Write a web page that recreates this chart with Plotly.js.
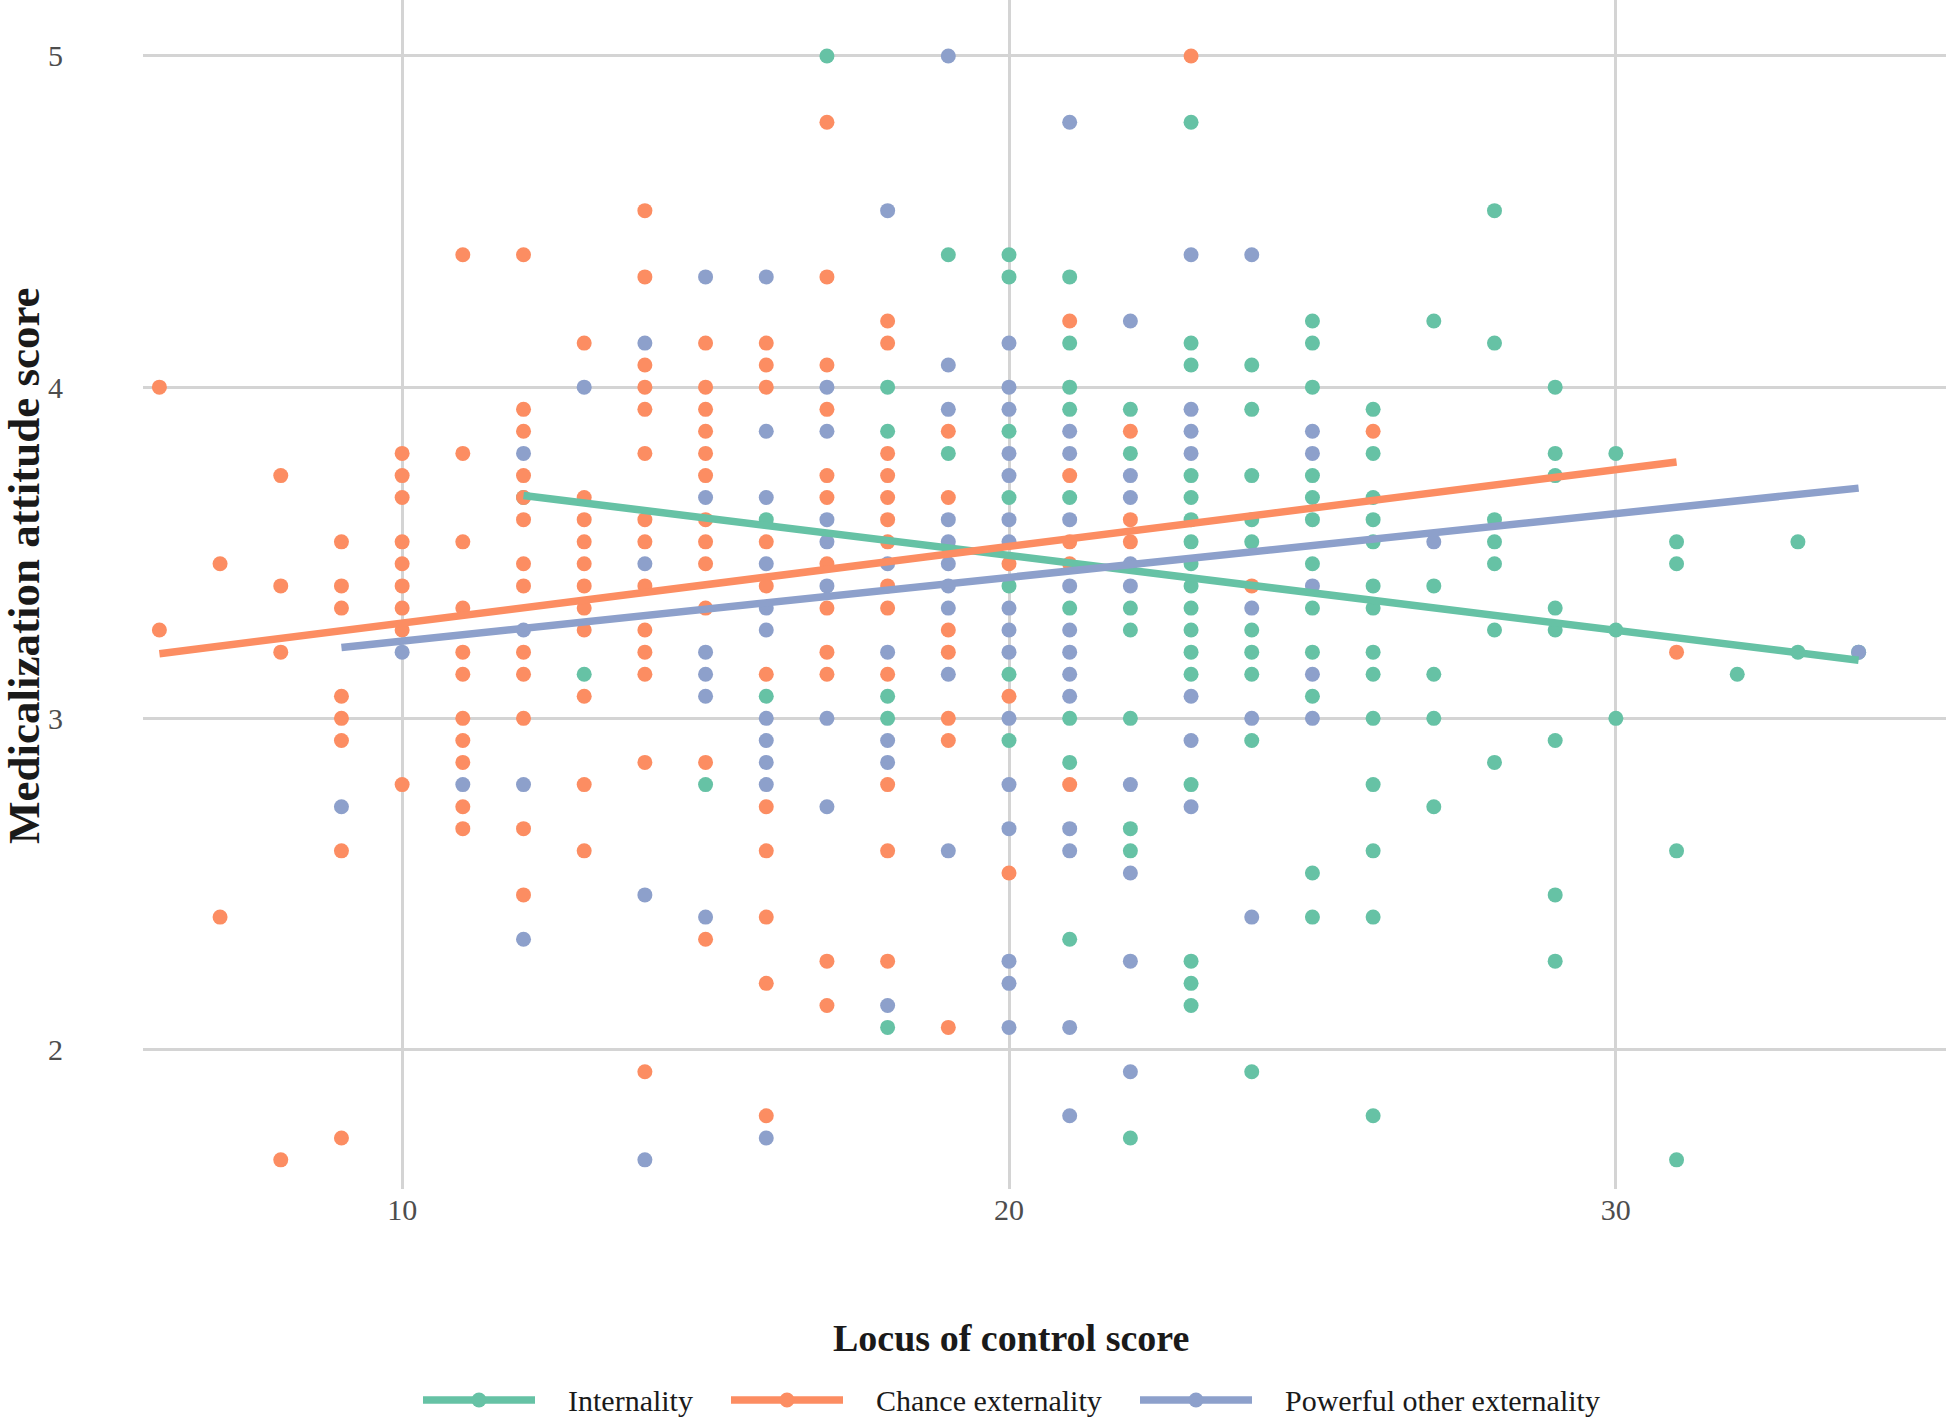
<!DOCTYPE html>
<html><head><meta charset="utf-8">
<script src="https://cdn.plot.ly/plotly-3.0.1.min.js"></script>
<style>html,body{margin:0;padding:0;background:#fff}</style>
</head><body><div id="chart" style="width:1952px;height:1417px"></div>
<script>
// ---- data ----
const seriesNames = ['Internality', 'Chance externality', 'Powerful other externality'];
const seriesColors = ['#66C2A5', '#FC8D62', '#8DA0CB'];

const internalityX = [12,13,15,16,16,17,18,18,18,18,18,19,19,
  20,20,20,20,20,20,20,
  21,21,21,21,21,21,21,21,21,
  22,22,22,22,22,22,22,22,
  23,23,23,23,23,23,23,23,23,23,23,23,23,23,23,23,23,
  24,24,24,24,24,24,24,24,24,24,
  25,25,25,25,25,25,25,25,25,25,25,25,
  26,26,26,26,26,26,26,26,26,26,26,26,26,26,
  27,27,27,27,27,
  28,28,28,28,28,28,28,
  29,29,29,29,29,29,29,29,
  30,30,30,31,31,31,31,32,33,33,34];
const internalityY = [3.667,3.133,2.8,3.6,3.067,5.0,4.0,3.867,3.067,3.0,2.067,4.4,3.8,
  4.4,4.333,3.867,3.667,3.4,3.133,2.933,
  4.333,4.133,4.0,3.933,3.667,3.333,3.0,2.867,2.333,
  3.933,3.8,3.333,3.267,3.0,2.667,2.6,1.733,
  4.8,4.133,4.067,3.733,3.667,3.6,3.533,3.467,3.4,3.333,3.267,3.2,3.133,2.8,2.267,2.2,2.133,
  4.067,3.933,3.733,3.6,3.533,3.267,3.2,3.133,2.933,1.933,
  4.2,4.133,4.0,3.733,3.667,3.6,3.467,3.333,3.2,3.067,2.533,2.4,
  3.933,3.8,3.667,3.6,3.533,3.4,3.333,3.2,3.133,3.0,2.8,2.6,2.4,1.8,
  4.2,3.4,3.133,3.0,2.733,
  4.533,4.133,3.6,3.533,3.467,3.267,2.867,
  4.0,3.8,3.733,3.333,3.267,2.933,2.467,2.267,
  3.8,3.267,3.0,3.533,3.467,2.6,1.667,3.133,3.533,3.2,3.2];

const chanceX = [6,6,7,7,8,8,8,8,
  9,9,9,9,9,9,9,9,
  10,10,10,10,10,10,10,10,10,
  11,11,11,11,11,11,11,11,11,11,11,
  12,12,12,12,12,12,12,12,12,12,12,12,12,
  13,13,13,13,13,13,13,13,13,13,13,
  14,14,14,14,14,14,14,14,14,14,14,14,14,14,
  15,15,15,15,15,15,15,15,15,15,15,15,
  16,16,16,16,16,16,16,16,16,16,16,
  17,17,17,17,17,17,17,17,17,17,17,17,
  18,18,18,18,18,18,18,18,18,18,18,18,18,
  19,19,19,19,19,19,19,
  20,20,20,21,21,21,21,21,22,22,22,23,24,26,31];
const chanceY = [4.0,3.267,3.467,2.4,3.733,3.4,3.2,1.667,
  3.533,3.4,3.333,3.067,3.0,2.933,2.6,1.733,
  3.8,3.733,3.667,3.533,3.467,3.4,3.333,3.267,2.8,
  4.4,3.8,3.533,3.333,3.2,3.133,3.0,2.933,2.867,2.733,2.667,
  4.4,3.933,3.867,3.733,3.667,3.6,3.467,3.4,3.2,3.133,3.0,2.667,2.467,
  4.133,3.667,3.6,3.533,3.467,3.4,3.333,3.267,3.067,2.8,2.6,
  4.533,4.333,4.067,4.0,3.933,3.8,3.6,3.533,3.4,3.267,3.2,3.133,2.867,1.933,
  4.133,4.0,3.933,3.867,3.8,3.733,3.6,3.533,3.467,3.333,2.867,2.333,
  4.133,4.067,4.0,3.533,3.4,3.133,2.733,2.6,2.4,2.2,1.8,
  4.8,4.333,4.067,3.933,3.733,3.667,3.467,3.333,3.2,3.133,2.267,2.133,
  4.2,4.133,3.8,3.733,3.667,3.6,3.533,3.4,3.333,3.133,2.8,2.6,2.267,
  3.867,3.667,3.267,3.2,3.0,2.933,2.067,
  3.467,3.067,2.533,4.2,3.733,3.533,3.467,2.8,3.867,3.6,3.533,5.0,3.4,3.867,3.2];

const powerfulX = [9,10,11,12,12,12,12,13,14,14,14,14,
  15,15,15,15,15,15,
  16,16,16,16,16,16,16,16,16,16,16,
  17,17,17,17,17,17,17,
  18,18,18,18,18,18,
  19,19,19,19,19,19,19,19,19,19,
  20,20,20,20,20,20,20,20,20,20,20,20,20,20,20,20,
  21,21,21,21,21,21,21,21,21,21,21,21,21,
  22,22,22,22,22,22,22,22,22,
  23,23,23,23,23,23,23,
  24,24,24,24,25,25,25,25,25,27,34];
const powerfulY = [2.733,3.2,2.8,3.8,3.267,2.8,2.333,4.0,4.133,3.467,2.467,1.667,
  4.333,3.667,3.2,3.133,3.067,2.4,
  4.333,3.867,3.667,3.467,3.333,3.267,3.0,2.933,2.867,2.8,1.733,
  4.0,3.867,3.6,3.533,3.4,3.0,2.733,
  4.533,3.467,3.2,2.933,2.867,2.133,
  5.0,4.067,3.933,3.6,3.533,3.467,3.4,3.333,3.133,2.6,
  4.133,4.0,3.933,3.8,3.733,3.6,3.533,3.333,3.267,3.2,3.0,2.8,2.667,2.267,2.2,2.067,
  4.8,3.867,3.8,3.6,3.4,3.267,3.2,3.133,3.067,2.667,2.6,2.067,1.8,
  4.2,3.733,3.667,3.467,3.4,2.8,2.533,2.267,1.933,
  4.4,3.933,3.867,3.8,3.067,2.933,2.733,
  4.4,3.333,3.0,2.4,3.867,3.8,3.4,3.133,3.0,3.533,3.2];

// linear-fit coefficients: y = intercept + slope * x
const fitIntercepts = [3.944, 3.056, 3.041];
const fitSlopes = [-0.0226, 0.02316, 0.01924];

const xTickVals = [10, 20, 30];
const yTickVals = [2, 3, 4, 5];
const xTitle = 'Locus of control score';
const yTitle = 'Medicalization attitude score';

// ---- build traces ----
const allX = [internalityX, chanceX, powerfulX];
const allY = [internalityY, chanceY, powerfulY];
const traces = [];
for (let i = 0; i < 3; i++) {
  traces.push({type: 'scatter', mode: 'markers', name: seriesNames[i], x: allX[i], y: allY[i],
    marker: {color: seriesColors[i], size: 15}, showlegend: false});
}
for (let i = 0; i < 3; i++) {
  const xmin = Math.min(...allX[i]), xmax = Math.max(...allX[i]);
  traces.push({type: 'scatter', mode: 'lines', name: seriesNames[i] + ' fit', x: [xmin, xmax],
    y: [fitIntercepts[i] + fitSlopes[i] * xmin, fitIntercepts[i] + fitSlopes[i] * xmax],
    line: {color: seriesColors[i], width: 7.5}, showlegend: false});
}

const W = 1952, H = 1417;
const M = {l: 143, r: 6, t: 0, b: 228};
const plotH = H - M.t - M.b, plotW = W - M.l - M.r;
const py = Y => (H - M.b - Y) / plotH;   // pixel -> paper y
const px = X => (X - M.l) / plotW;       // pixel -> paper x

const serif = 'Liberation Serif, Times New Roman, serif';

// legend keys (line + dot + label), placed like the reference's bottom legend
const legendLineStart = [423, 731, 1140];
const legendLineLen = 112;
const legendTextGap = 31;
const legendY = 1400;
const shapes = [], annotations = [];
for (let i = 0; i < 3; i++) {
  const x0 = legendLineStart[i], x1 = x0 + legendLineLen, xc = (x0 + x1) / 2;
  shapes.push({type: 'line', xref: 'paper', yref: 'paper', x0: px(x0), x1: px(x1),
    y0: py(legendY), y1: py(legendY), line: {color: seriesColors[i], width: 7.5}});
  shapes.push({type: 'circle', xref: 'paper', yref: 'paper', x0: px(xc - 7.5), x1: px(xc + 7.5),
    y0: py(legendY + 7.5), y1: py(legendY - 7.5), fillcolor: seriesColors[i], line: {width: 0}});
  annotations.push({text: seriesNames[i], xref: 'paper', yref: 'paper', x: px(x1 + legendTextGap),
    y: py(legendY), xanchor: 'left', yanchor: 'middle', showarrow: false,
    font: {size: 30, color: '#1a1a1a', family: serif}});
}
annotations.push({text: '<b>' + xTitle + '</b>', xref: 'paper', yref: 'paper', x: px(1011), y: py(1338),
  xanchor: 'center', yanchor: 'middle', showarrow: false, font: {size: 38, color: '#1a1a1a', family: serif}});
annotations.push({text: '<b>' + yTitle + '</b>', xref: 'paper', yref: 'paper', x: px(24), y: py(566),
  xanchor: 'center', yanchor: 'middle', textangle: -90, showarrow: false,
  font: {size: 45, color: '#1a1a1a', family: serif}});

const layout = {
  width: W, height: H, margin: M,
  paper_bgcolor: '#ffffff', plot_bgcolor: '#ffffff',
  font: {family: serif, color: '#4d4d4d'},
  xaxis: {range: [5.73, 35.44], tickvals: xTickVals, showgrid: true, gridcolor: '#d4d4d4', gridwidth: 3,
    zeroline: false, showline: false, ticks: '', tickfont: {size: 30, color: '#4d4d4d', family: serif},
    ticklabelstandoff: 0},
  yaxis: {range: [1.579, 5.169], tickvals: yTickVals, showgrid: true, gridcolor: '#d4d4d4', gridwidth: 3,
    zeroline: false, showline: false, ticks: '', tickfont: {size: 30, color: '#4d4d4d', family: serif},
    ticklabelstandoff: 79},
  showlegend: false,
  shapes: shapes,
  annotations: annotations
};
Plotly.newPlot('chart', traces, layout, {displayModeBar: false, staticPlot: true});
</script></body></html>
